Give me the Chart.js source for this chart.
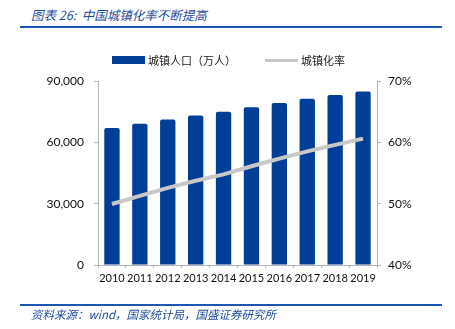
<!DOCTYPE html>
<html>
<head>
<meta charset="utf-8">
<script src="https://cdn.jsdelivr.net/npm/chart.js@4/dist/chart.umd.min.js"></script>
<style>
  html, body { margin: 0; padding: 0; background: #fff; }
  #wrap { position: relative; width: 455px; height: 329px; overflow: hidden; }
  #title { position: absolute; left: 31px; top: 5px; font: italic 12.5px "Noto Sans CJK SC", sans-serif; color: #1f4b9b; white-space: nowrap; }
  #source { position: absolute; left: 31px; top: 306px; font: italic 11.5px "Noto Sans CJK SC", sans-serif; color: #1f4b9b; white-space: nowrap; }
  .rule { position: absolute; left: 20px; width: 422px; height: 2px; background: #1d56b0; }
  #chartBox { position: absolute; left: 0; top: 0; width: 455px; height: 329px; }
  #c { display: block; }
  #legend { position: absolute; top: 53px; left: 0; width: 455px; height: 14px; font: 11px "Noto Sans CJK SC", sans-serif; color: #222; }
  .item { position: absolute; top: 0; height: 14px; line-height: 14px; white-space: nowrap; }
  .swatch { position: absolute; left: 0; width: 33px; }
  .item span { position: absolute; left: 36px; top: 0; }
</style>
</head>
<body>
<div id="wrap">
  <div id="title">图表 26:&nbsp; 中国城镇化率不断提高</div>
  <div class="rule" style="top:26px"></div>
  <div id="chartBox"><canvas id="c" width="455" height="329"></canvas></div>
  <div id="legend"></div>
  <div class="rule" style="top:304px"></div>
  <div id="source">资料来源：wind，国家统计局，国盛证券研究所</div>
</div>
<script>
// Years on the category axis
const years = ['2010', '2011', '2012', '2013', '2014', '2015', '2016', '2017', '2018', '2019'];
// Urban population, 10k persons
const urbanPopulation = [66978, 69079, 71182, 73111, 74916, 77116, 79298, 81347, 83137, 84843];
// Urbanization rate, percent
const urbanizationRate = [49.95, 51.27, 52.57, 53.73, 54.77, 56.10, 57.35, 58.52, 59.58, 60.60];
// Axis tick values
const leftTicks = [0, 30000, 60000, 90000];
const rightTicks = [40, 50, 60, 70];

const axisGray = '#b4b4b4';
const tickFont = { family: 'Lato, "Liberation Sans", sans-serif', size: 12 };

const chart = new Chart(document.getElementById('c'), {
  data: {
    labels: years,
    datasets: [
      {
        type: 'bar',
        label: '城镇人口（万人）',
        data: urbanPopulation,
        yAxisID: 'y',
        backgroundColor: '#003f97',
        borderRadius: { topLeft: 2, topRight: 2 },
        borderSkipped: 'bottom',
        barPercentage: 0.55,
        categoryPercentage: 1,
        order: 1
      },
      {
        type: 'line',
        label: '城镇化率',
        data: urbanizationRate,
        yAxisID: 'y1',
        borderColor: '#c8c8c8',
        backgroundColor: '#c8c8c8',
        borderWidth: 4,
        pointRadius: 0,
        tension: 0,
        order: 0
      }
    ]
  },
  options: {
    responsive: false,
    animation: false,
    devicePixelRatio: 1,
    layout: { padding: { top: 81, bottom: 33, left: 0, right: 0 } },
    plugins: {
      tooltip: { enabled: false },
      legend: { display: false }
    },
    scales: {
      x: {
        offset: true,
        grid: { display: true, offset: true, drawOnChartArea: false, drawTicks: true, tickLength: 3, color: axisGray },
        border: { display: true, color: axisGray },
        ticks: { color: '#111', font: { family: tickFont.family, size: 11 }, padding: 4, maxRotation: 0, autoSkip: false },
        afterFit: s => { s.height = 31; }
      },
      y: {
        position: 'left',
        min: 0,
        max: 90000,
        afterBuildTicks: s => { s.ticks = leftTicks.map(v => ({ value: v })); },
        grid: { display: true, drawOnChartArea: false, drawTicks: true, tickLength: 4, color: axisGray },
        border: { display: true, color: axisGray },
        ticks: {
          color: '#111',
          font: tickFont,
          padding: 10,
          callback: v => v.toLocaleString('en-US')
        },
        afterFit: s => { s.width = 98; }
      },
      y1: {
        position: 'right',
        min: 40,
        max: 70,
        afterBuildTicks: s => { s.ticks = rightTicks.map(v => ({ value: v })); },
        grid: { display: true, drawOnChartArea: false, drawTicks: true, tickLength: 4, color: axisGray },
        border: { display: true, color: axisGray },
        ticks: {
          color: '#111',
          font: tickFont,
          padding: 7,
          callback: v => v + '%'
        },
        afterFit: s => { s.width = 78; }
      }
    }
  }
});

// Legend built from the datasets: bar swatch, then line swatch
const legend = document.getElementById('legend');
const legendX = [112, 265];
chart.data.datasets.forEach((ds, i) => {
  const item = document.createElement('div');
  item.className = 'item';
  item.style.left = legendX[i] + 'px';
  const sw = document.createElement('div');
  sw.className = 'swatch';
  if (ds.type === 'bar') {
    sw.style.top = '3px';
    sw.style.height = '8px';
  } else {
    sw.style.top = '5.5px';
    sw.style.height = '3px';
  }
  sw.style.background = ds.backgroundColor;
  const tx = document.createElement('span');
  tx.textContent = ds.label;
  item.appendChild(sw);
  item.appendChild(tx);
  legend.appendChild(item);
});
</script>
</body>
</html>
